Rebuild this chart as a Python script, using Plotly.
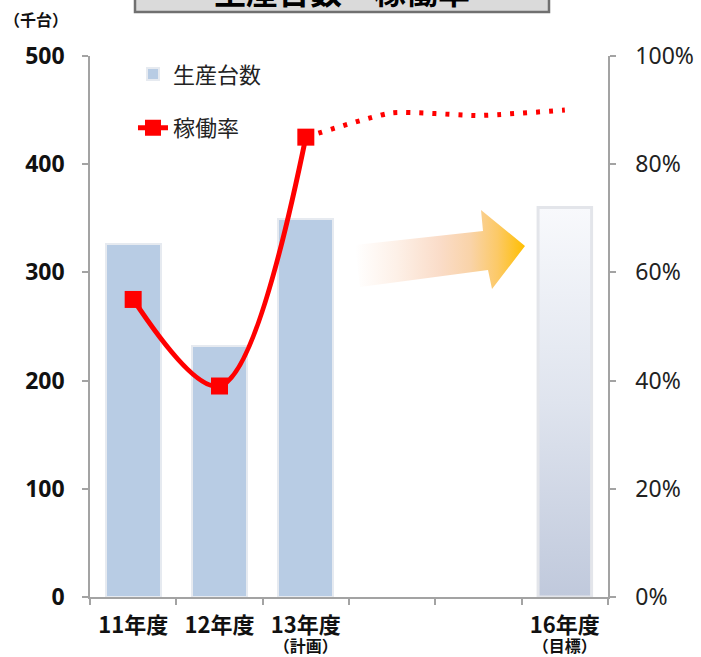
import plotly.graph_objects as go

# ---- data ----
categories = ["11年度", "12年度", "13年度", "14年度", "15年度", "16年度"]
tick_labels = ["11年度", "12年度", "13年度", "", "", "16年度"]
sub_label_x = ["13年度", "16年度"]
sub_labels = ["（計画）", "（目標）"]
production = [326, 232, 349]            # 生産台数 (千台), 11-13年度
production_target = 360                 # 16年度 目標
rate_actual = [55, 39, 85]              # 稼働率 (%), 11-13年度
rate_plan_x = ["13年度", "14年度", "15年度", "16年度"]
rate_plan = [85, 89.5, 89, 90]          # 稼働率 見通し (%)

pos = {c: i for i, c in enumerate(categories)}
x_prod = [pos[c] for c in categories[:3]]
x_target = pos["16年度"]
x_plan = [pos[c] for c in rate_plan_x]

BAR_W = 0.64
TGT_W = 0.62
JP = "Noto Sans CJK JP"
AXIS_GRAY = "#a3a3a3"

fig = go.Figure()

# production bars
fig.add_trace(go.Bar(
    x=x_prod, y=production, width=BAR_W, name="生産台数",
    marker=dict(color="#b8cce4", line=dict(color="#e6eaf0", width=2)),
    legendgroup="a", yaxis="y",
))

# target bar drawn with a vertical gradient fill
hw = TGT_W / 2
fig.add_trace(go.Scatter(
    x=[x_target - hw, x_target + hw, x_target + hw, x_target - hw, x_target - hw],
    y=[0, 0, production_target, production_target, 0],
    mode="lines", fill="toself",
    fillgradient=dict(type="vertical", start=0, stop=production_target,
                      colorscale=[[0, "#c0c9dc"], [0.5, "#dfe4ee"], [1, "#f8f9fc"]]),
    line=dict(color="#e3e5ea", width=3),
    showlegend=False, hoverinfo="skip", yaxis="y",
))

# utilisation rate, actual
fig.add_trace(go.Scatter(
    x=x_prod, y=rate_actual, name="稼働率", yaxis="y2",
    mode="lines+markers", line=dict(color="#ff0000", width=5, shape="spline", smoothing=1),
    marker=dict(symbol="square", size=17, color="#ff0000"),
    legendgroup="b",
))

# utilisation rate, outlook (dotted)
fig.add_trace(go.Scatter(
    x=x_plan, y=rate_plan, yaxis="y2", mode="lines",
    line=dict(color="#ff0000", width=5, shape="spline", smoothing=0.5, dash="4px,9px"),
    showlegend=False, hoverinfo="skip",
))

# gradient arrow towards the target year (page-pixel overlay axes)
arrow_x = [355, 483, 481, 525, 492, 488, 360, 355]
arrow_y = [245, 231, 210, 246, 289, 270, 287, 245]
fig.add_trace(go.Scatter(
    x=arrow_x, y=arrow_y, xaxis="x3", yaxis="y3",
    mode="lines", fill="toself", line=dict(width=0, color="rgba(0,0,0,0)"),
    fillgradient=dict(type="horizontal", start=355, stop=525,
                      colorscale=[[0, "rgba(255,255,255,1)"], [0.25, "#fdf0e7"],
                                  [0.5, "#fadcc8"], [0.68, "#f9d3a8"],
                                  [0.84, "#fcc966"], [1, "#ffbf00"]]),
    showlegend=False, hoverinfo="skip",
))

fig.update_layout(
    width=701, height=657,
    margin=dict(l=90, r=93, t=56, b=60),
    paper_bgcolor="white", plot_bgcolor="white",
    font=dict(family=JP, color="#1a1a1a"),
    bargap=0,
    xaxis=dict(
        range=[-0.5, 5.5], showgrid=False, zeroline=False, automargin=False,
        showline=True, linecolor=AXIS_GRAY, linewidth=1.5,
        tickmode="array", tickvals=list(range(len(categories))), ticktext=tick_labels,
        ticks="", ticklabelstandoff=8,
        tickfont=dict(family=JP, size=22, weight="bold", color="#111"),
        minor=dict(tickmode="array", tickvals=[i - 0.5 for i in range(len(categories) + 1)],
                   ticks="outside", ticklen=6, tickcolor=AXIS_GRAY, tickwidth=1.5),
    ),
    # second row of category labels (plan / target notes)
    xaxis4=dict(
        range=[-0.5, 5.5], overlaying="x", anchor="y", side="bottom",
        showgrid=False, zeroline=False, showline=False, automargin=False,
        tickmode="array", tickvals=[pos[c] for c in sub_label_x], ticktext=sub_labels,
        ticks="", ticklabelstandoff=38,
        tickfont=dict(family=JP, size=16, weight="bold", color="#111"),
    ),
    yaxis=dict(
        range=[0, 500], dtick=100, showgrid=False, zeroline=False, automargin=False,
        showline=True, linecolor=AXIS_GRAY, linewidth=1.5,
        ticks="outside", ticklen=6, tickcolor=AXIS_GRAY, tickwidth=1.5,
        ticklabelstandoff=13,
        tickfont=dict(family="Noto Sans", size=23, weight="bold", color="#111"),
    ),
    yaxis2=dict(
        range=[0, 100], dtick=20, ticksuffix="%", overlaying="y", side="right",
        showgrid=False, zeroline=False, automargin=False,
        showline=True, linecolor=AXIS_GRAY, linewidth=1.5,
        ticks="outside", ticklen=6, tickcolor=AXIS_GRAY, tickwidth=1.5,
        ticklabelstandoff=15,
        tickfont=dict(family="Noto Sans", size=23, color="#222"),
    ),
    xaxis3=dict(range=[90, 608], overlaying="x", visible=False, fixedrange=True),
    yaxis3=dict(range=[597, 56], overlaying="y", visible=False, fixedrange=True),
    legend=dict(
        x=0.083, y=1.005, xanchor="left", yanchor="top",
        bgcolor="rgba(0,0,0,0)", traceorder="grouped", tracegroupgap=22,
        font=dict(family=JP, size=22, color="#222"),
    ),
    showlegend=True,
)

# a trace on the second label axis so that it is drawn
fig.add_trace(go.Scatter(x=[None], y=[None], xaxis="x4", yaxis="y",
                         showlegend=False, hoverinfo="skip"))

# unit label
fig.add_annotation(
    text="（千台）", xref="paper", yref="paper", x=-0.17, y=(597 - 19) / 541,
    xanchor="left", yanchor="middle", showarrow=False,
    font=dict(family=JP, size=16, weight="bold", color="#111"),
)

# title box at the top of the page
fig.add_shape(
    type="rect", xref="paper", yref="paper",
    x0=(135 - 90) / 518, x1=(549 - 90) / 518, y0=(597 - 12) / 541, y1=(597 + 30) / 541,
    fillcolor="#dadada", line=dict(color="#707070", width=2.5), layer="above",
)
fig.add_annotation(
    text="生産台数・稼働率", xref="paper", yref="paper",
    x=(342 - 90) / 518, y=(597 + 10) / 541, xanchor="center", yanchor="middle",
    showarrow=False, font=dict(family=JP, size=32, weight="bold", color="#000"),
)

fig.write_html("out.html")
